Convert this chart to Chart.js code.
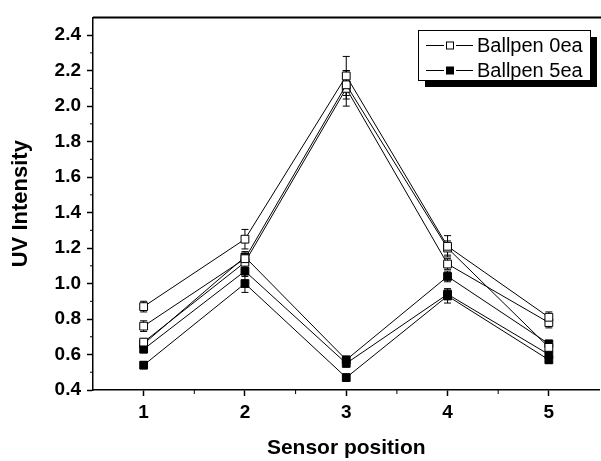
<!DOCTYPE html>
<html>
<head>
<meta charset="utf-8">
<script src="https://cdn.jsdelivr.net/npm/chart.js@4.4.0/dist/chart.umd.min.js"></script>
<style>
html, body { margin: 0; padding: 0; background: #fff; overflow: hidden; }
canvas { display: block; }
</style>
</head>
<body>
<canvas id="uv-chart" width="606" height="461"></canvas>
<script>
const positions = [1, 2, 3, 4, 5];
const xTicks = [1, 2, 3, 4, 5];
const yTicks = [0.4, 0.6, 0.8, 1.0, 1.2, 1.4, 1.6, 1.8, 2.0, 2.2, 2.4];
const xMinor = [1.5, 2.5, 3.5, 4.5];
const yMinor = [0.5, 0.7, 0.9, 1.1, 1.3, 1.5, 1.7, 1.9, 2.1, 2.3];

// Ballpen 0ea (open squares)
const pen0a = [0.87, 1.25, 2.17, 1.21, 0.81];
const pen0b = [0.76, 1.14, 2.12, 1.20, 0.64];
const pen0c = [0.67, 1.12, 2.10, 1.11, 0.78];
const err0a = [0.03, 0.055, 0.11, 0.06, 0.03];
const err0b = [0.03, 0.03, 0.08, 0.04, 0.03];
const err0c = [0.02, 0.03, 0.10, 0.03, 0.03];

// Ballpen 5ea (filled squares)
const pen5a = [0.66, 1.15, 0.57, 1.04, 0.66];
const pen5b = [0.63, 1.07, 0.55, 0.94, 0.60];
const pen5c = [0.54, 1.00, 0.47, 0.93, 0.57];
const err5a = [0.02, 0.03, 0.02, 0.03, 0.02];
const err5b = [0.02, 0.03, 0.02, 0.03, 0.02];
const err5c = [0.02, 0.05, 0.02, 0.04, 0.02];

const legendLabels = ['Ballpen 0ea', 'Ballpen 5ea'];

const FONT = '"Liberation Sans", Arial, sans-serif';

function makeSet(values, errors, filled) {
    return {
        data: positions.map((x, i) => ({ x, y: values[i] })),
        errors,
        borderColor: '#000',
        borderWidth: 1,
        pointStyle: 'rect',
        pointRadius: 5.5,
        pointBorderWidth: 1,
        pointBorderColor: '#000',
        pointBackgroundColor: filled ? '#000' : '#fff',
        tension: 0,
        fill: false
    };
}

const extras = {
    id: 'extras',
    beforeDatasetsDraw(chart) {
        const { ctx, scales: { x, y } } = chart;
        ctx.save();
        ctx.strokeStyle = '#000';
        ctx.lineWidth = 1;
        chart.data.datasets.forEach(ds => {
            ds.data.forEach((p, i) => {
                const px = x.getPixelForValue(p.x);
                const top = y.getPixelForValue(p.y + ds.errors[i]);
                const bot = y.getPixelForValue(p.y - ds.errors[i]);
                ctx.beginPath();
                ctx.moveTo(px, top); ctx.lineTo(px, bot);
                ctx.moveTo(px - 3.5, top); ctx.lineTo(px + 3.5, top);
                ctx.moveTo(px - 3.5, bot); ctx.lineTo(px + 3.5, bot);
                ctx.stroke();
            });
        });
        ctx.restore();
    },
    afterDraw(chart) {
        const { ctx, chartArea, scales: { x, y } } = chart;
        ctx.save();
        ctx.strokeStyle = '#000';
        // top frame
        ctx.lineWidth = 2;
        ctx.beginPath();
        ctx.moveTo(chartArea.left, chartArea.top);
        ctx.lineTo(chartArea.right + 2, chartArea.top);
        ctx.stroke();
        // minor ticks
        ctx.lineWidth = 1;
        ctx.beginPath();
        xMinor.forEach(v => {
            const px = x.getPixelForValue(v);
            ctx.moveTo(px, chartArea.bottom);
            ctx.lineTo(px, chartArea.bottom + 4);
        });
        yMinor.forEach(v => {
            const py = y.getPixelForValue(v);
            ctx.moveTo(chartArea.left, py);
            ctx.lineTo(chartArea.left - 3, py);
        });
        ctx.stroke();

        // legend box with shadow
        const bx = 418, by = 30, bw = 172, bh = 50;
        ctx.fillStyle = '#000';
        ctx.fillRect(bx + 7, by + 7, bw, bh);
        ctx.fillStyle = '#fff';
        ctx.fillRect(bx, by, bw, bh);
        ctx.lineWidth = 1;
        ctx.strokeRect(bx + 0.5, by + 0.5, bw, bh);
        ctx.font = '20px ' + FONT;
        ctx.textBaseline = 'middle';
        ctx.textAlign = 'left';
        legendLabels.forEach((label, i) => {
            const ry = by + 15 + i * 25;
            ctx.beginPath();
            ctx.moveTo(426, ry + 0.5); ctx.lineTo(444, ry + 0.5);
            ctx.moveTo(456, ry + 0.5); ctx.lineTo(473, ry + 0.5);
            ctx.stroke();
            if (i === 0) {
                ctx.fillStyle = '#fff';
                ctx.fillRect(446.5, ry - 3, 7, 7);
                ctx.strokeRect(446.5, ry - 3, 7, 7);
            } else {
                ctx.fillStyle = '#000';
                ctx.fillRect(446, ry - 3.5, 8, 8);
            }
            ctx.fillStyle = '#000';
            ctx.fillText(label, 477, ry + 1);
        });
        ctx.restore();
    }
};

const ctx = document.getElementById('uv-chart').getContext('2d');

new Chart(ctx, {
    type: 'line',
    data: {
        datasets: [
            makeSet(pen0a, err0a, false),
            makeSet(pen0b, err0b, false),
            makeSet(pen0c, err0c, false),
            makeSet(pen5a, err5a, true),
            makeSet(pen5b, err5b, true),
            makeSet(pen5c, err5c, true)
        ]
    },
    options: {
        responsive: false,
        animation: false,
        layout: { padding: { top: 10, right: 2, left: 0, bottom: 0 } },
        plugins: {
            legend: { display: false },
            tooltip: { enabled: false }
        },
        scales: {
            x: {
                type: 'linear',
                min: 0.5,
                max: 5.5,
                afterBuildTicks: s => { s.ticks = xTicks.map(v => ({ value: v })); },
                afterFit: s => { s.height = 71; },
                grid: { drawOnChartArea: false, tickLength: 6, tickColor: '#000', tickWidth: 1.5 },
                border: { color: '#000', width: 1.5 },
                ticks: {
                    color: '#000',
                    font: { family: FONT, size: 19, weight: 'bold' },
                    padding: 5,
                    maxRotation: 0,
                    autoSkip: false
                },
                title: {
                    display: true,
                    text: 'Sensor position',
                    color: '#000',
                    font: { family: FONT, size: 21, weight: 'bold' },
                    padding: { top: 0, bottom: 0 }
                }
            },
            y: {
                type: 'linear',
                min: 0.4,
                max: 2.5,
                afterBuildTicks: s => { s.ticks = yTicks.map(v => ({ value: v })); },
                afterFit: s => { s.width = 93; },
                grid: { drawOnChartArea: false, tickLength: 6, tickColor: '#000', tickWidth: 1.5 },
                border: { color: '#000', width: 1.5 },
                ticks: {
                    color: '#000',
                    font: { family: FONT, size: 19, weight: 'bold' },
                    padding: 6,
                    callback: v => v.toFixed(1)
                },
                title: {
                    display: true,
                    text: 'UV Intensity',
                    color: '#000',
                    font: { family: FONT, size: 22, weight: 'bold' },
                    padding: { top: 8, bottom: 0 }
                }
            }
        }
    },
    plugins: [extras]
});
</script>
</body>
</html>
